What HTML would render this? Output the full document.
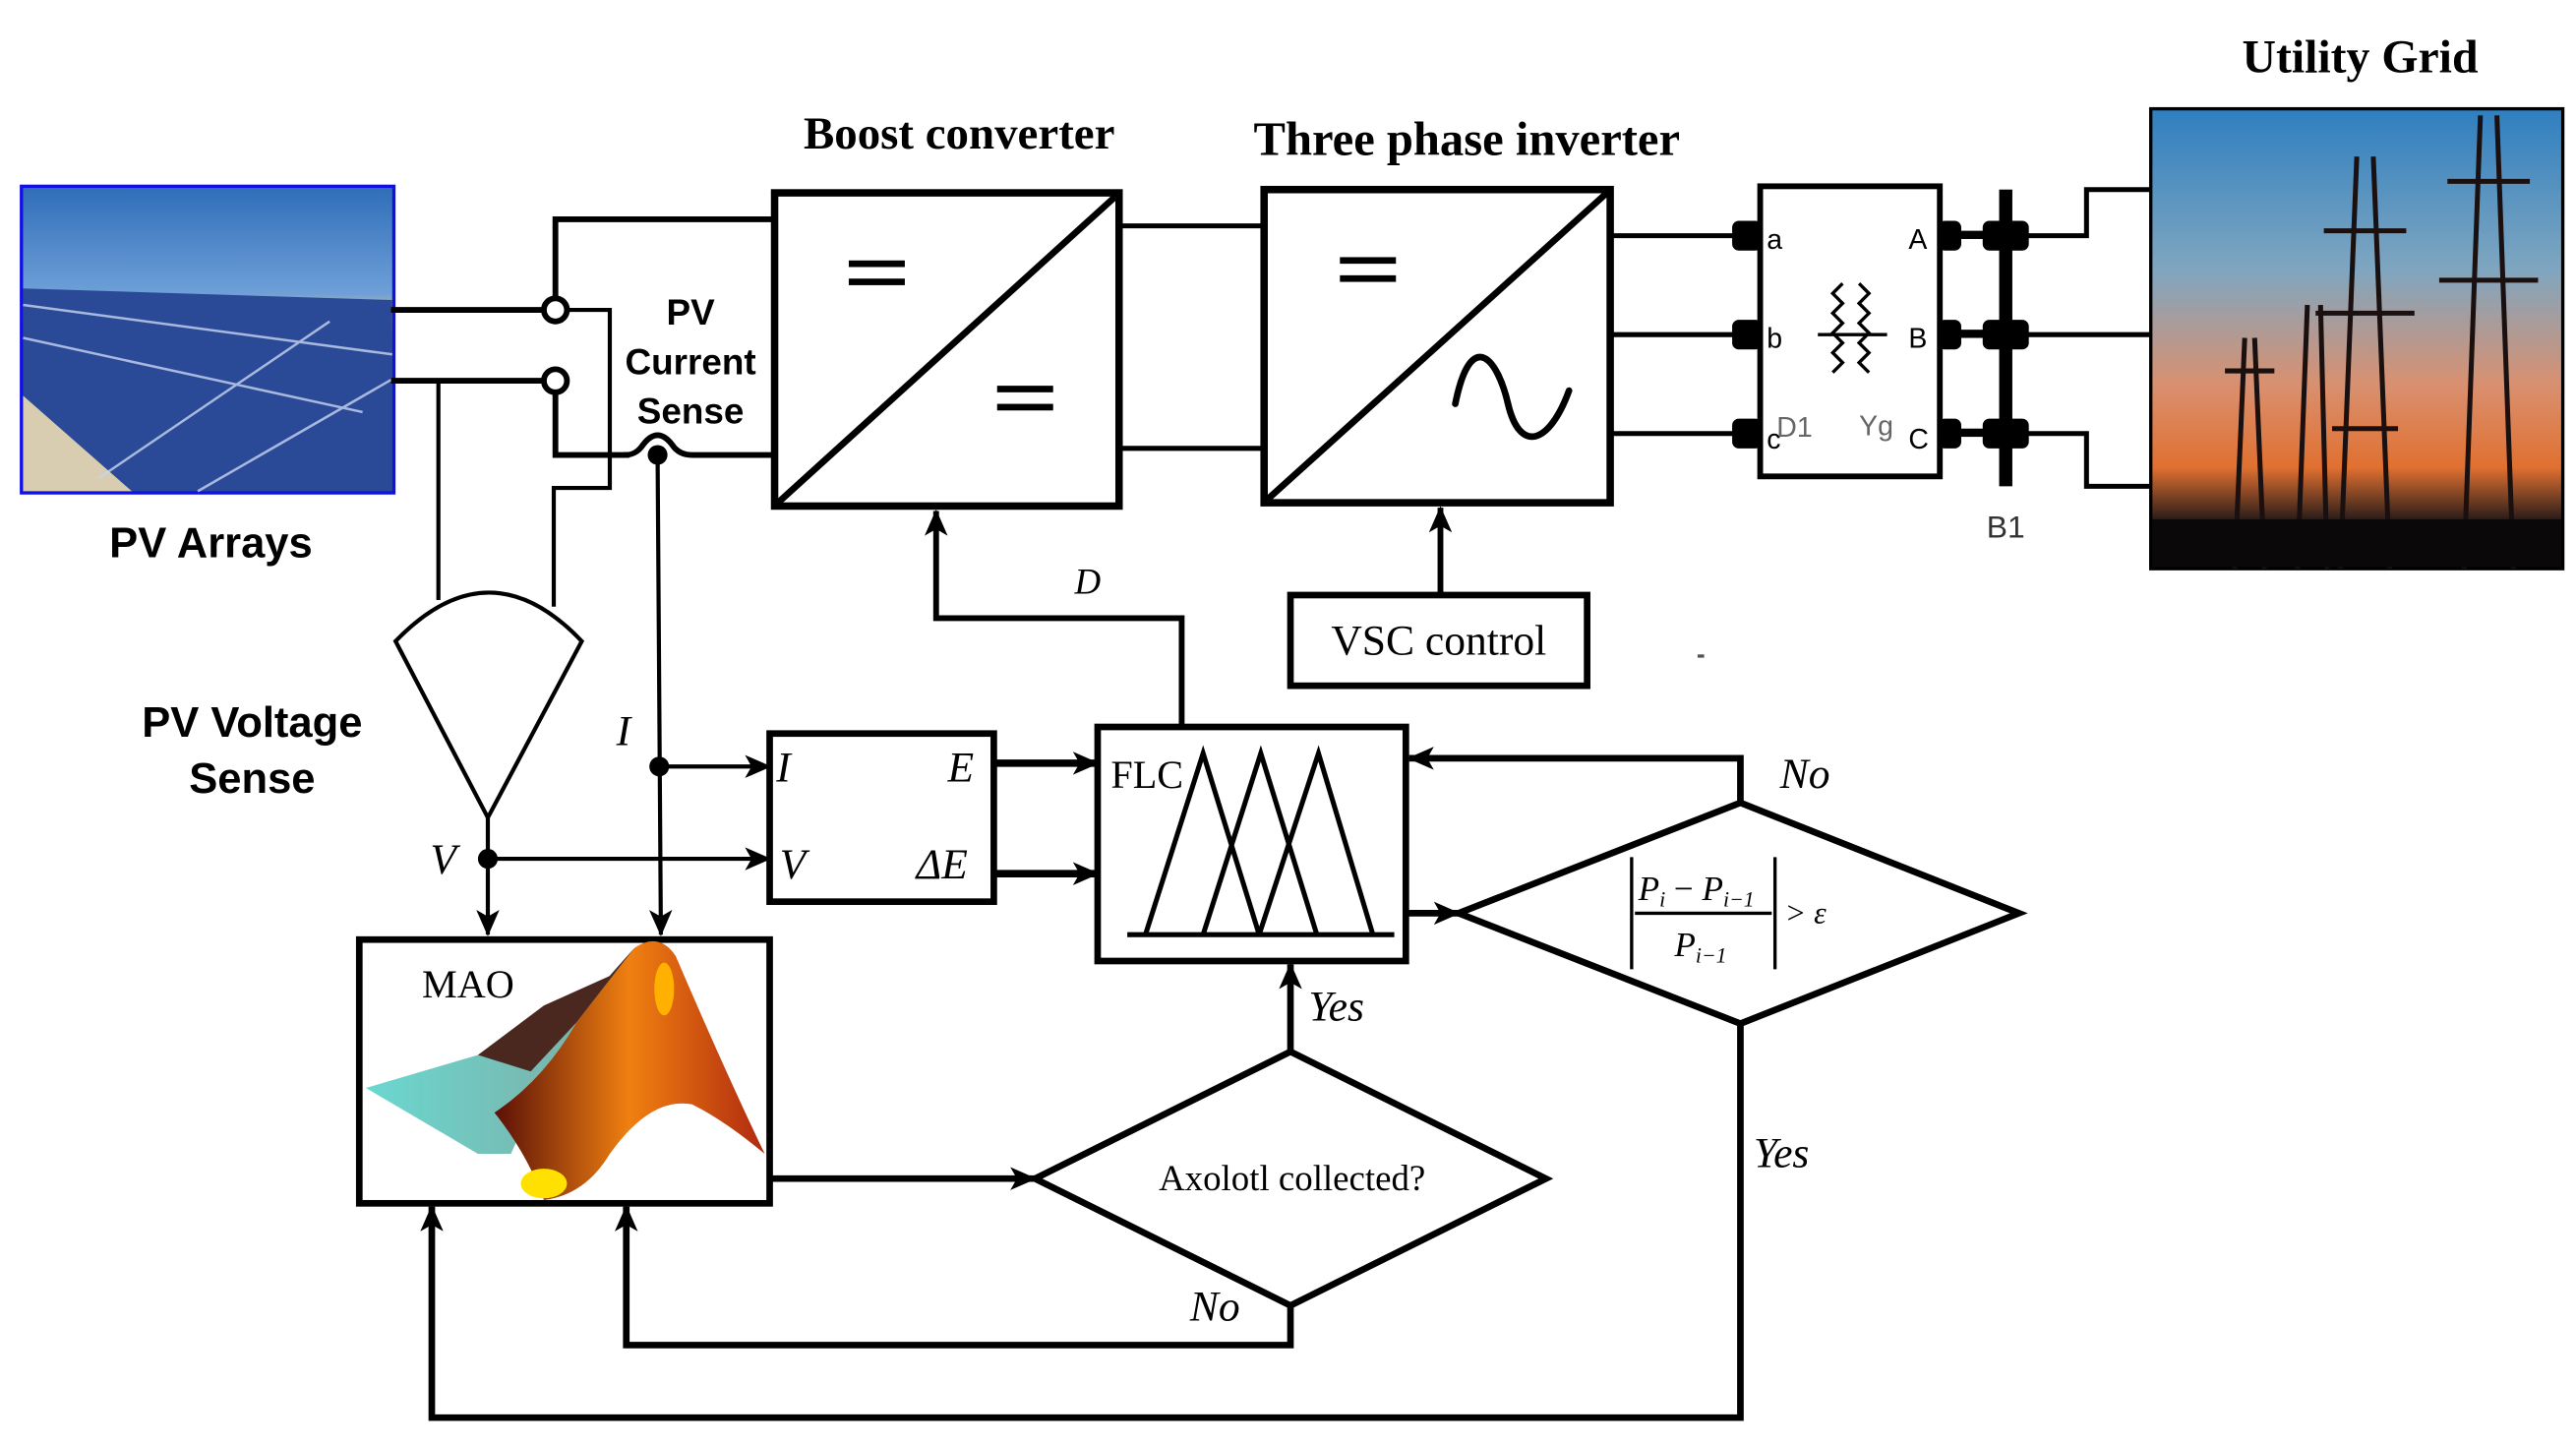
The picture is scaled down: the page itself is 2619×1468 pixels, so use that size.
<!DOCTYPE html>
<html><head><meta charset="utf-8"><style>html,body{margin:0;padding:0;background:#fff}svg{display:block}</style></head>
<body>
<svg xmlns="http://www.w3.org/2000/svg" width="2619" height="1468" viewBox="0 0 1563 876" preserveAspectRatio="none">
<defs>
<marker id="ar" markerWidth="16" markerHeight="14" refX="15" refY="7" orient="auto" markerUnits="userSpaceOnUse">
<path d="M0,0 L16,7 L0,14 L4,7 Z" fill="#000"/></marker>
<linearGradient id="sky" x1="0" y1="0" x2="0" y2="1">
<stop offset="0" stop-color="#2f6db8"/><stop offset="0.35" stop-color="#6ea0d8"/><stop offset="0.42" stop-color="#c9b98c"/><stop offset="0.5" stop-color="#2a4f9a"/><stop offset="1" stop-color="#23408a"/></linearGradient>
<linearGradient id="grid" x1="0" y1="0" x2="0" y2="1">
<stop offset="0" stop-color="#2f7fc0"/><stop offset="0.35" stop-color="#7fa6c0"/><stop offset="0.6" stop-color="#d99070"/><stop offset="0.78" stop-color="#e07030"/><stop offset="0.9" stop-color="#201818"/><stop offset="1" stop-color="#050505"/></linearGradient>
<linearGradient id="org" x1="0" y1="0" x2="1" y2="0">
<stop offset="0" stop-color="#5a1008"/><stop offset="0.5" stop-color="#f08010"/><stop offset="1" stop-color="#b02a10"/></linearGradient>
<linearGradient id="cy" x1="0" y1="0" x2="1" y2="0">
<stop offset="0" stop-color="#6ad8d0"/><stop offset="1" stop-color="#80a8a0"/></linearGradient>
</defs>
<g font-family="Liberation Serif, serif">
<rect x="13" y="113" width="226" height="186" fill="url(#sky)" stroke="#1010e0" stroke-width="2"/>
<polygon points="14,175 238,182 238,298 80,298 14,240" fill="#2a4a98"/>
<polygon points="14,240 80,298 14,298" fill="#d8cdb0"/>
<g stroke="#c8d4f0" stroke-width="1.5" opacity="0.8"><line x1="14" y1="185" x2="238" y2="215"/><line x1="14" y1="205" x2="220" y2="250"/><line x1="60" y1="290" x2="200" y2="195"/><line x1="120" y1="298" x2="238" y2="230"/></g>
<text x="128" y="338" font-family="Liberation Sans, sans-serif" font-weight="bold" font-size="26" text-anchor="middle">PV Arrays</text>

<g stroke="#000" stroke-width="3.5" fill="none" stroke-linecap="square">
<polyline points="239,188 330,188"/>
<polyline points="239,231 330,231"/>
<polyline points="337,181 337,133 470,133"/>
<polyline points="337,238 337,276 380,276"/>
<path d="M380,276 Q386,276 390,270 Q399,258 408,270 Q412,276 420,276 L470,276"/>
</g>
<circle cx="337" cy="188" r="7" fill="#fff" stroke="#000" stroke-width="3.5"/>
<circle cx="337" cy="231" r="7" fill="#fff" stroke="#000" stroke-width="3.5"/>
<g stroke="#000" stroke-width="2.5" fill="none">
<polyline points="344,188 370,188 370,296 336,296 336,368"/>
<polyline points="266,231 266,364"/>
<path d="M240,389 Q297,330 353,389 L296,496 Z"/>
</g>
<text x="419" y="197" font-family="Liberation Sans, sans-serif" font-weight="bold" font-size="22" text-anchor="middle">PV</text>
<text x="419" y="227" font-family="Liberation Sans, sans-serif" font-weight="bold" font-size="22" text-anchor="middle">Current</text>
<text x="419" y="257" font-family="Liberation Sans, sans-serif" font-weight="bold" font-size="22" text-anchor="middle">Sense</text>
<text x="153" y="447" font-family="Liberation Sans, sans-serif" font-weight="bold" font-size="26" text-anchor="middle">PV Voltage</text>
<text x="153" y="481" font-family="Liberation Sans, sans-serif" font-weight="bold" font-size="26" text-anchor="middle">Sense</text>

<g stroke="#000" stroke-width="2.5" fill="none">
<line x1="399" y1="276" x2="401" y2="567" marker-end="url(#ar)"/>
<line x1="400" y1="465" x2="467" y2="465" marker-end="url(#ar)"/>
<line x1="296" y1="496" x2="296" y2="567" marker-end="url(#ar)"/>
<line x1="296" y1="521" x2="467" y2="521" marker-end="url(#ar)"/>
</g>
<circle cx="399" cy="276" r="6" fill="#000"/>
<circle cx="400" cy="465" r="6" fill="#000"/>
<circle cx="296" cy="521" r="6" fill="#000"/>
<text x="374" y="452" font-style="italic" font-size="26">I</text>
<text x="261" y="530" font-style="italic" font-size="26">V</text>

<text x="582" y="90" font-weight="bold" font-size="28" text-anchor="middle">Boost converter</text>
<rect x="470" y="117" width="209" height="190" fill="none" stroke="#000" stroke-width="4.5"/>
<line x1="472" y1="305" x2="677" y2="119" stroke="#000" stroke-width="4"/>
<g fill="#000"><rect x="515" y="158" width="34" height="4"/><rect x="515" y="169" width="34" height="4"/><rect x="605" y="234" width="34" height="4"/><rect x="605" y="245" width="34" height="4"/></g>
<g stroke="#000" stroke-width="3"><line x1="679" y1="137" x2="767" y2="137"/><line x1="679" y1="272" x2="767" y2="272"/></g>

<text x="890" y="94" font-weight="bold" font-size="29" text-anchor="middle">Three phase inverter</text>
<rect x="767" y="115" width="210" height="190" fill="none" stroke="#000" stroke-width="4.5"/>
<line x1="769" y1="303" x2="975" y2="117" stroke="#000" stroke-width="4"/>
<g fill="#000"><rect x="813" y="156" width="34" height="4"/><rect x="813" y="167" width="34" height="4"/></g>
<path d="M883,245 C892,200 908,215 915,245 C922,275 940,270 952,237" fill="none" stroke="#000" stroke-width="4" stroke-linecap="round"/>

<g stroke="#000" stroke-width="3" fill="none">
<line x1="977" y1="143" x2="1055" y2="143"/><line x1="977" y1="203" x2="1055" y2="203"/><line x1="977" y1="263" x2="1055" y2="263"/>
<polyline points="1225,143 1266,143 1266,115 1305,115"/>
<line x1="1225" y1="203" x2="1305" y2="203"/>
<polyline points="1225,263 1266,263 1266,295 1305,295"/>
</g>
<rect x="1068" y="113" width="109" height="176" fill="#fff" stroke="#000" stroke-width="3.5"/>
<g fill="#000">
<rect x="1051" y="134" width="18" height="18" rx="4"/><rect x="1051" y="194" width="18" height="18" rx="4"/><rect x="1051" y="254" width="18" height="18" rx="4"/>
<rect x="1176" y="134" width="14" height="18" rx="4"/><rect x="1176" y="194" width="14" height="18" rx="4"/><rect x="1176" y="254" width="14" height="18" rx="4"/>
<rect x="1213" y="115" width="8" height="180"/>
<rect x="1203" y="134" width="28" height="18" rx="4"/><rect x="1203" y="194" width="28" height="18" rx="4"/><rect x="1203" y="254" width="28" height="18" rx="4"/>
<rect x="1188" y="140" width="18" height="5"/><rect x="1188" y="200" width="18" height="5"/><rect x="1188" y="260" width="18" height="5"/>
</g>
<g font-family="Liberation Sans, sans-serif" font-size="17" fill="#000">
<text x="1072" y="151">a</text><text x="1072" y="211">b</text><text x="1072" y="272">c</text>
<text x="1158" y="151">A</text><text x="1158" y="211">B</text><text x="1158" y="272">C</text>
<text x="1078" y="265" fill="#666">D1</text><text x="1128" y="264" fill="#666">Yg</text>
<text x="1217" y="326" text-anchor="middle" fill="#333" font-size="19">B1</text>
</g>
<g stroke="#000" stroke-width="2" fill="none">
<path d="M1118,172 l-6,6 l6,6 l-6,6 l6,6 l-6,6 l6,6 l-6,6 l6,6 l-6,6"/>
<path d="M1128,172 l6,6 l-6,6 l6,6 l-6,6 l6,6 l-6,6 l6,6 l-6,6 l6,6"/>
<line x1="1103" y1="203" x2="1145" y2="203"/>
</g>

<text x="1432" y="44" font-weight="bold" font-size="28.5" text-anchor="middle">Utility Grid</text>
<rect x="1305" y="66" width="250" height="279" fill="url(#grid)" stroke="#000" stroke-width="2"/>
<g stroke="#1a1010" stroke-width="3" fill="none">
<path d="M1430,95 L1420,345 M1440,95 L1450,345 M1410,140 h50 M1405,190 h60 M1415,260 h40"/>
<path d="M1505,70 L1495,345 M1515,70 L1525,345 M1485,110 h50 M1480,170 h60"/>
<path d="M1362,205 L1356,345 M1368,205 L1374,345 M1350,225 h30"/>
<path d="M1400,185 L1394,345 M1408,185 L1412,345"/>
</g>
<rect x="1306" y="315" width="248" height="29" fill="#0a0808"/>

<g stroke="#000" stroke-width="3.5" fill="none">
<polyline points="717,440 717,375 568,375 568,310" marker-end="url(#ar)"/>
<line x1="874" y1="361" x2="874" y2="308" marker-end="url(#ar)"/>
</g>
<text x="652" y="360" font-style="italic" font-size="22">D</text>
<rect x="783" y="361" width="180" height="55" fill="#fff" stroke="#000" stroke-width="4"/>
<text x="873" y="397" font-size="26" text-anchor="middle">VSC control</text>

<rect x="467" y="445" width="136" height="102" fill="#fff" stroke="#000" stroke-width="4"/>
<g font-style="italic" font-size="26"><text x="471" y="474">I</text><text x="575" y="474">E</text><text x="473" y="533">V</text><text x="556" y="533">ΔE</text></g>
<g stroke="#000" stroke-width="4.5" fill="none">
<line x1="603" y1="463" x2="666" y2="463" marker-end="url(#ar)"/>
<line x1="603" y1="530" x2="666" y2="530" marker-end="url(#ar)"/>
</g>

<rect x="666" y="441" width="187" height="142" fill="#fff" stroke="#000" stroke-width="4"/>
<text x="674" y="478" font-size="24">FLC</text>
<g stroke="#000" stroke-width="3" fill="none">
<line x1="684" y1="567" x2="846" y2="567"/>
<polyline points="695,567 730,457 764,567"/>
<polyline points="730,567 765,457 799,567"/>
<polyline points="764,567 800,457 833,567"/>
</g>

<polygon points="885,554 1056,487 1225,554 1056,621" fill="#fff" stroke="#000" stroke-width="4"/>
<g stroke="#000" stroke-width="4" fill="none">
<line x1="853" y1="554" x2="885" y2="554" marker-end="url(#ar)"/>
<polyline points="1056,487 1056,460 855,460" marker-end="url(#ar)"/>
<polyline points="1056,621 1056,860 262,860 262,732" marker-end="url(#ar)"/>
</g>
<text x="1080" y="478" font-style="italic" font-size="26">No</text>
<text x="1064" y="708" font-style="italic" font-size="26">Yes</text>
<g stroke="#000" fill="none"><line x1="990" y1="520" x2="990" y2="588" stroke-width="2"/><line x1="1077" y1="520" x2="1077" y2="588" stroke-width="2"/><line x1="992" y1="554" x2="1075" y2="554" stroke-width="2"/></g>
<g font-style="italic" font-size="21">
<text x="994" y="546">P<tspan font-size="13" dy="4">i</tspan><tspan font-style="normal" dy="-4"> − </tspan>P<tspan font-size="13" dy="4">i−1</tspan></text>
<text x="1016" y="580">P<tspan font-size="13" dy="4">i−1</tspan></text>
<text x="1083" y="560" font-size="19">&gt; ε</text>
</g>

<rect x="218" y="570" width="249" height="160" fill="#fff" stroke="#000" stroke-width="4"/>
<text x="256" y="605" font-size="24">MAO</text>
<polygon points="222,660 290,640 340,625 385,575 330,655 310,700 290,700" fill="url(#cy)"/>
<polygon points="290,640 330,610 370,592 385,575 350,620 322,650" fill="#4a2820"/>
<path d="M385,575 Q400,565 410,580 Q440,650 464,700 Q440,680 420,670 Q395,665 370,700 Q355,725 330,728 Q320,700 300,675 Q330,655 350,620 Z" fill="url(#org)"/>
<ellipse cx="330" cy="718" rx="14" ry="9" fill="#ffe000"/>
<ellipse cx="403" cy="600" rx="6" ry="16" fill="#ffb000"/>

<g stroke="#000" stroke-width="4" fill="none">
<line x1="467" y1="715" x2="628" y2="715" marker-end="url(#ar)"/>
<line x1="783" y1="638" x2="783" y2="585" marker-end="url(#ar)"/>
<polyline points="783,792 783,816 380,816 380,732" marker-end="url(#ar)"/>
</g>
<polygon points="628,715 783,638 938,715 783,792" fill="#fff" stroke="#000" stroke-width="4"/>
<text x="784" y="722" font-size="22" text-anchor="middle">Axolotl collected?</text>
<text x="794" y="619" font-style="italic" font-size="26">Yes</text>
<text x="722" y="801" font-style="italic" font-size="26">No</text>
<rect x="1030" y="397" width="4" height="2" fill="#555"/>
</g>
</svg>
</body></html>
